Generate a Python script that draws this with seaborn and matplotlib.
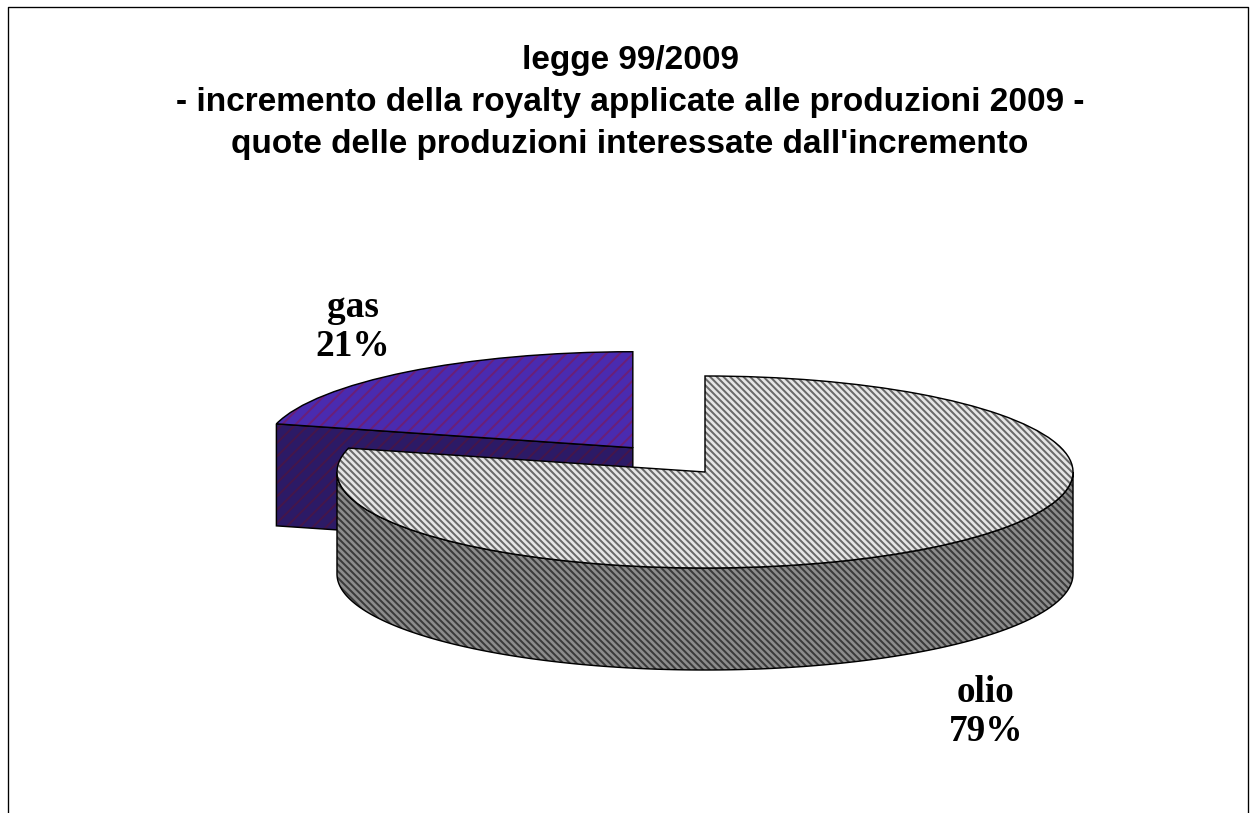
import numpy as np
import matplotlib
matplotlib.use('AGG')
import matplotlib.pyplot as plt
from matplotlib.patches import Wedge
import seaborn as sns

title_lines = ['legge 99/2009',
               '- incremento della royalty applicate alle produzioni 2009 -',
               "quote delle produzioni interessate dall'incremento"]
labels = ['gas', 'olio']
shares = [21, 79]
top_colors = ['#4a2bb0', '#e6e6e6']
top_stripes = ['#6b1f78', '#6a6a6a']
side_colors = ['#2c1a66', '#8c8c8c']
side_stripes = ['#45164a', '#3a3a3a']
hatches = ['//', '\\\\\\\\']

W, H, DPI = 1257, 813, 80
RX, RY = 368, 96
SQUASH = RY / RX
DEPTH = 102 / SQUASH

sns.set_theme(style='white')
plt.rcParams['hatch.linewidth'] = 1.8


def py(y):
    return (H - y) / SQUASH


def side_poly(wedge):
    # outline of the visible wall below a wedge
    cx, cy = wedge.center
    r = wedge.r
    if wedge.theta2 - wedge.theta1 < 180:
        # only the cut face towards the viewer is seen
        a = np.radians(wedge.theta2)
        xs = [cx + r * np.cos(a), cx, cx, cx + r * np.cos(a)]
        ys = [cy + r * np.sin(a), cy, cy - DEPTH, cy + r * np.sin(a) - DEPTH]
        return xs, ys
    a = np.radians(np.linspace(180, 360, 200))
    xs = cx + r * np.cos(a)
    ys = cy + r * np.sin(a)
    return np.r_[xs, xs[::-1]], np.r_[ys, ys[::-1] - DEPTH]


fig = plt.figure(figsize=(W / DPI, H / DPI), dpi=DPI, facecolor='white')
ax = fig.add_axes([0, 0, 1, 1])

# explode is in data units here
wedges, _ = ax.pie(shares, explode=[0.32 * RX, 0], center=(705, py(472)), radius=RX,
                   startangle=90, colors=top_colors, frame=True,
                   wedgeprops={'linewidth': 0})
ax.set_aspect('auto')
ax.set_xlim(0, W)
ax.set_ylim(0, H / SQUASH)
ax.axis('off')

for i, w in enumerate(wedges):
    xs, ys = side_poly(w)
    z = 2 + i * 2
    ax.fill(xs, ys, facecolor=side_colors[i], edgecolor=side_stripes[i],
            hatch=hatches[i], linewidth=0, zorder=z)
    ax.fill(xs, ys, fill=False, edgecolor='black', linewidth=1.3, zorder=z)
    w.set(facecolor=top_colors[i], edgecolor=top_stripes[i], hatch=hatches[i], zorder=z + 0.5)
    ax.add_patch(Wedge(w.center, w.r, w.theta1, w.theta2, fill=False,
                       edgecolor='black', linewidth=1.3, zorder=z + 0.6))

# border of the chart area, open at the bottom
ax.plot([8, 8, 1248, 1248], [py(H + 5), py(7), py(7), py(H + 5)], color='black', lw=1.2,
        clip_on=False, zorder=10)

for line, y in zip(title_lines, [60, 102, 144]):
    fig.text(630 / W, 1 - y / H, line, ha='center', va='center', fontsize=30,
             fontweight='bold', family='Liberation Sans', color='black')

label_pos = [(353, 327), (986, 712)]
for name, share, (x, y) in zip(labels, shares, label_pos):
    fig.text(x / W, 1 - y / H, f'{name}\n{share}%', ha='center', va='center', fontsize=33.5,
             fontweight='bold', family='Liberation Serif', color='black', linespacing=1.12)

fig.savefig('out.png', dpi=DPI)
